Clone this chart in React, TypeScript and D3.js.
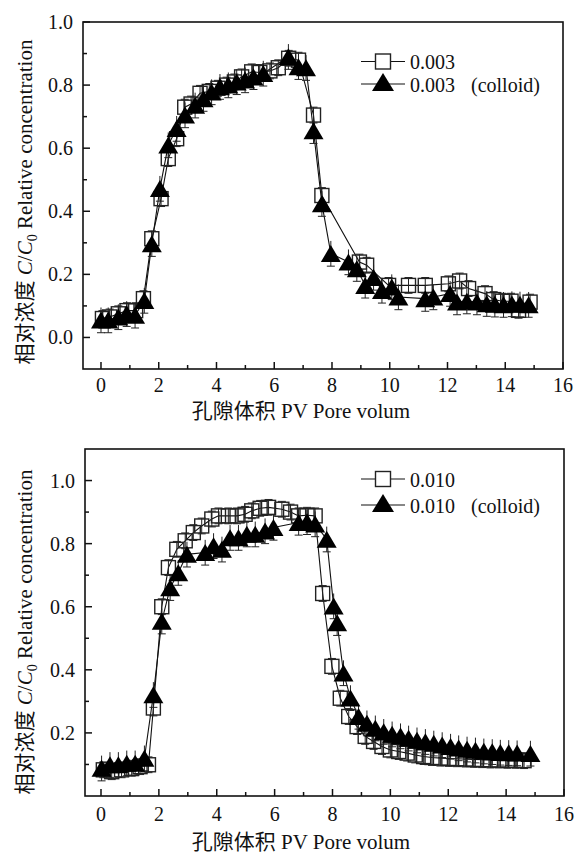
import React from 'react';
import * as d3 from 'd3';

// ---------- Data ----------
// Top panel: 0.003
const sqX1 = [0.05, 0.3, 0.6, 0.9, 1.2, 1.47, 1.76, 2.08, 2.33, 2.62, 2.9, 3.12, 3.43, 3.75, 4.05, 4.35, 4.62, 4.87, 5.22, 5.5, 5.85, 6.14, 6.5, 6.84, 7.36, 7.65, 8.95, 9.2, 9.96, 10.65, 11.23, 12.03, 12.42, 12.73, 13.3, 13.6, 13.9, 14.2, 14.46, 14.86];
const sqY1 = [0.06, 0.065, 0.075, 0.085, 0.085, 0.123, 0.313, 0.44, 0.567, 0.63, 0.73, 0.74, 0.774, 0.78, 0.79, 0.8, 0.81, 0.826, 0.842, 0.84, 0.845, 0.855, 0.885, 0.879, 0.705, 0.45, 0.239, 0.229, 0.165, 0.165, 0.165, 0.17, 0.179, 0.155, 0.139, 0.12, 0.115, 0.115, 0.086, 0.112];
const triX1 = [0.0, 0.25, 0.6, 0.89, 1.18, 1.5, 1.76, 2.04, 2.33, 2.62, 2.91, 3.26, 3.55, 3.83, 4.12, 4.41, 4.7, 4.99, 5.28, 5.62, 6.49, 6.84, 7.1, 7.36, 7.65, 7.96, 8.57, 8.86, 9.15, 9.44, 9.73, 10.07, 10.3, 11.23, 11.51, 12.09, 12.33, 12.67, 13.02, 13.36, 13.64, 13.94, 14.23, 14.51, 14.81];
const triY1 = [0.055, 0.055, 0.065, 0.075, 0.07, 0.117, 0.297, 0.472, 0.61, 0.662, 0.705, 0.736, 0.757, 0.778, 0.795, 0.8, 0.81, 0.816, 0.826, 0.837, 0.89, 0.858, 0.855, 0.655, 0.424, 0.266, 0.239, 0.218, 0.165, 0.19, 0.149, 0.16, 0.128, 0.123, 0.128, 0.139, 0.112, 0.115, 0.112, 0.107, 0.105, 0.104, 0.106, 0.105, 0.104];

// Bottom panel: 0.010
const sqX2 = [0.08, 0.37, 0.71, 1.06, 1.35, 1.64, 1.81, 2.1, 2.33, 2.62, 2.91, 3.19, 3.48, 3.83, 4.06, 4.4, 4.7, 4.98, 5.21, 5.5, 5.79, 6.25, 6.55, 6.83, 7.12, 7.4, 7.66, 7.98, 8.27, 8.56, 8.85, 9.13, 9.42, 9.71, 10.0, 10.29, 10.58, 10.86, 11.15, 11.44, 11.73, 12.02, 12.3, 12.6, 12.88, 13.17, 13.46, 13.75, 14.04, 14.33, 14.62];
const sqY2 = [0.083, 0.077, 0.083, 0.088, 0.093, 0.099, 0.279, 0.6, 0.724, 0.782, 0.809, 0.835, 0.856, 0.878, 0.888, 0.888, 0.888, 0.893, 0.904, 0.912, 0.915, 0.909, 0.9, 0.888, 0.89, 0.888, 0.642, 0.411, 0.31, 0.252, 0.22, 0.189, 0.173, 0.157, 0.146, 0.141, 0.136, 0.13, 0.125, 0.122, 0.12, 0.119, 0.118, 0.117, 0.116, 0.115, 0.114, 0.114, 0.113, 0.113, 0.112];
const triX2 = [0.02, 0.31, 0.6, 0.89, 1.18, 1.5, 1.81, 2.1, 2.39, 2.67, 2.97, 3.6, 3.89, 4.18, 4.46, 4.75, 5.04, 5.33, 5.67, 5.96, 6.83, 7.12, 7.4, 7.8, 8.04, 8.16, 8.38, 8.62, 8.9, 9.19, 9.48, 9.77, 10.06, 10.35, 10.63, 10.92, 11.21, 11.5, 11.79, 12.08, 12.36, 12.65, 12.94, 13.23, 13.52, 13.8, 14.09, 14.38, 14.84];
const triY2 = [0.088, 0.099, 0.099, 0.104, 0.104, 0.12, 0.321, 0.554, 0.66, 0.708, 0.766, 0.772, 0.793, 0.782, 0.819, 0.819, 0.83, 0.83, 0.84, 0.851, 0.867, 0.869, 0.862, 0.814, 0.602, 0.549, 0.39, 0.311, 0.252, 0.231, 0.215, 0.204, 0.196, 0.19, 0.183, 0.177, 0.172, 0.167, 0.162, 0.157, 0.152, 0.148, 0.145, 0.142, 0.14, 0.138, 0.137, 0.136, 0.135];

const xTicks = [0, 2, 4, 6, 8, 10, 12, 14, 16];
const xMinorTicks = [1, 3, 5, 7, 9, 11, 13, 15];
const yTicksTop = [0.0, 0.2, 0.4, 0.6, 0.8, 1.0];
const yMinorTop = [0.1, 0.3, 0.5, 0.7, 0.9];
const yTicksBottom = [0.2, 0.4, 0.6, 0.8, 1.0];
const yMinorBottom = [0.1, 0.3, 0.5, 0.7, 0.9];
const legendTop = ['0.003', '0.003'];
const legendBottom = ['0.010', '0.010'];
const colloidLabel = '(colloid)';
const errSquare = 0.025;
const errTriangle = 0.04;

const SERIF = '"Liberation Serif", "Times New Roman", "Noto Sans CJK SC", serif';

type P = {
  left: number; top: number; right: number; bottom: number;
  xDomain: [number, number]; yDomain: [number, number];
  yTicks: number[]; yMinor: number[];
  sqX: number[]; sqY: number[]; triX: number[]; triY: number[];
  legend: string[];
  legRow1: number; legRow2: number;
  xLabelY: number; yLabelCY: number; xTickDy: number;
};

const triPath = (w: number, h: number) => `M0,${-h / 2}L${w / 2},${h / 2}L${-w / 2},${h / 2}Z`;

function Panel(p: P) {
  const x = d3.scaleLinear().domain(p.xDomain).range([p.left, p.right]);
  const y = d3.scaleLinear().domain(p.yDomain).range([p.bottom, p.top]);
  const sq = p.sqX.map((v, i) => [v, p.sqY[i]] as [number, number]);
  const tri = p.triX.map((v, i) => [v, p.triY[i]] as [number, number]);
  const line = d3.line<[number, number]>().x(d => x(d[0])).y(d => y(d[1]));
  const legX0 = 361, legX1 = 405, legM = 383, legT = 410, legC = 471;
  return (
    <g>
      {/* connecting lines */}
      <path d={line(sq) || ''} fill="none" stroke="#111" strokeWidth={1.1} />
      <path d={line(tri) || ''} fill="none" stroke="#111" strokeWidth={1.1} />
      {/* error bars */}
      {sq.map((d, i) => (
        <g key={'es' + i} stroke="#222" strokeWidth={1}>
          <line x1={x(d[0])} x2={x(d[0])} y1={y(d[1] - errSquare)} y2={y(d[1] + errSquare)} />
          <line x1={x(d[0]) - 4} x2={x(d[0]) + 4} y1={y(d[1] - errSquare)} y2={y(d[1] - errSquare)} />
          <line x1={x(d[0]) - 4} x2={x(d[0]) + 4} y1={y(d[1] + errSquare)} y2={y(d[1] + errSquare)} />
        </g>
      ))}
      {tri.map((d, i) => (
        <g key={'et' + i} stroke="#222" strokeWidth={1}>
          <line x1={x(d[0])} x2={x(d[0])} y1={y(d[1] - errTriangle)} y2={y(d[1] + errTriangle)} />
          <line x1={x(d[0]) - 4} x2={x(d[0]) + 4} y1={y(d[1] - errTriangle)} y2={y(d[1] - errTriangle)} />
        </g>
      ))}
      {/* markers */}
      {sq.map((d, i) => (
        <rect key={'s' + i} x={x(d[0]) - 7} y={y(d[1]) - 7} width={14} height={14} fill="none" stroke="#222" strokeWidth={1.4} />
      ))}
      {tri.map((d, i) => (
        <path key={'t' + i} d={triPath(20, 17)} transform={`translate(${x(d[0])},${y(d[1])})`} fill="#000" />
      ))}
      {/* frame */}
      <rect x={p.left} y={p.top} width={p.right - p.left} height={p.bottom - p.top} fill="none" stroke="#111" strokeWidth={1.6} />
      {/* x ticks */}
      {xTicks.map(t => (
        <g key={'xt' + t}>
          <line x1={x(t)} x2={x(t)} y1={p.bottom} y2={p.bottom - 7} stroke="#111" strokeWidth={1.5} />
          <text x={x(t)} y={p.bottom + p.xTickDy} textAnchor="middle" fontSize={20} fontFamily={SERIF} fill="#111">{t}</text>
        </g>
      ))}
      {xMinorTicks.map(t => (
        <line key={'xm' + t} x1={x(t)} x2={x(t)} y1={p.bottom} y2={p.bottom - 4} stroke="#111" strokeWidth={1.5} />
      ))}
      {/* y ticks */}
      {p.yTicks.map(t => (
        <g key={'yt' + t}>
          <line x1={p.left} x2={p.left + 7} y1={y(t)} y2={y(t)} stroke="#111" strokeWidth={1.5} />
          <text x={p.left - 10} y={y(t) + 7} textAnchor="end" fontSize={20} fontFamily={SERIF} fill="#111">{d3.format('.1f')(t)}</text>
        </g>
      ))}
      {p.yMinor.map(t => (
        <line key={'ym' + t} x1={p.left} x2={p.left + 4} y1={y(t)} y2={y(t)} stroke="#111" strokeWidth={1.5} />
      ))}
      {/* legend */}
      <line x1={legX0} x2={legX1} y1={p.legRow1} y2={p.legRow1} stroke="#111" strokeWidth={1.2} />
      <rect x={legM - 7.5} y={p.legRow1 - 7.5} width={15} height={15} fill="#fff" stroke="#222" strokeWidth={1.4} />
      <text x={legT} y={p.legRow1 + 7.5} fontSize={20} fontFamily={SERIF} fill="#111">{p.legend[0]}</text>
      <line x1={legX0} x2={legX1} y1={p.legRow2} y2={p.legRow2} stroke="#111" strokeWidth={1.2} />
      <path d={triPath(22, 18)} transform={`translate(${legM},${p.legRow2 - 2})`} fill="#000" />
      <text y={p.legRow2 + 7.5} fontSize={20} fontFamily={SERIF} fill="#111">
        <tspan x={legT}>{p.legend[1]}</tspan>
        <tspan x={legC}>{colloidLabel}</tspan>
      </text>
      {/* axis titles */}
      <text x={301} y={p.xLabelY} textAnchor="middle" fontSize={21} fontFamily={SERIF} fill="#111">孔隙体积 PV Pore volum</text>
      <text transform={`translate(32,${p.yLabelCY}) rotate(-90)`} textAnchor="middle" fontSize={21} fontFamily={SERIF} fill="#111">
        相对浓度 <tspan fontStyle="italic">C</tspan><tspan>/</tspan><tspan fontStyle="italic">C</tspan><tspan fontSize={14} dy={5}>0</tspan><tspan dy={-5}> Relative concentration</tspan>
      </text>
    </g>
  );
}

export default function App() {
  return (
    <svg width={579} height={855} style={{ position: 'absolute', left: 0, top: 0, background: '#fff' }}>
      <rect x={0} y={0} width={579} height={855} fill="#fff" />
      <Panel left={83} top={22} right={563} bottom={369} xDomain={[-0.623, 16]} yDomain={[-0.1, 1.0]}
        yTicks={yTicksTop} yMinor={yMinorTop} sqX={sqX1} sqY={sqY1} triX={triX1} triY={triY1}
        legend={legendTop} legRow1={61.5} legRow2={84} xLabelY={418} yLabelCY={202} xTickDy={23} />
      <Panel left={85} top={449} right={564} bottom={796} xDomain={[-0.553, 16]} yDomain={[0, 1.1]}
        yTicks={yTicksBottom} yMinor={yMinorBottom} sqX={sqX2} sqY={sqY2} triX={triX2} triY={triY2}
        legend={legendBottom} legRow1={479} legRow2={505} xLabelY={849} yLabelCY={632} xTickDy={25} />
    </svg>
  );
}
